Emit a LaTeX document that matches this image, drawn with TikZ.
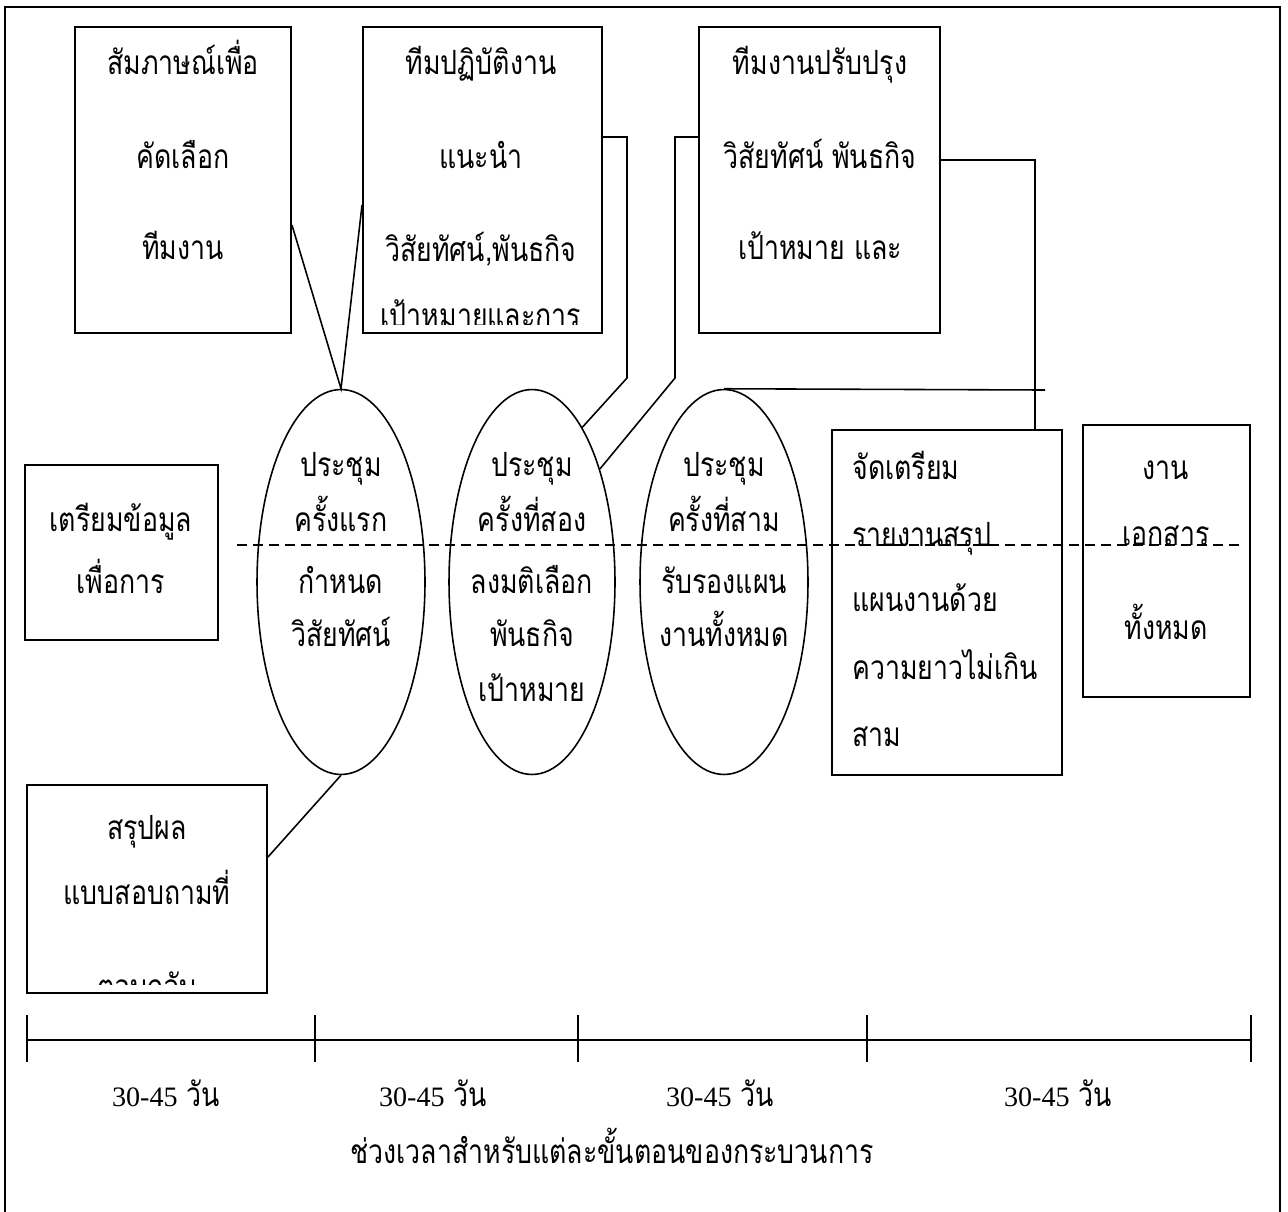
\documentclass[tikz,border=0pt]{standalone}
\usepackage{fontspec}
\newfontfamily\thai[Script=Thai,FakeStretch=0.8]{Loma}
\newfontfamily\lat{Liberation Serif}
\usetikzlibrary{shapes.geometric,fit}

\begin{document}
\begin{tikzpicture}[x=0.02cm, y=-0.02cm,
        box/.style={draw, line width=1.1pt, inner sep=0pt},
        meet/.style={draw, ellipse, line width=0.9pt, inner sep=0pt, minimum width=3.36cm, minimum height=7.7cm},
        txt/.style={font=\thai\fontsize{19}{19}\selectfont, inner sep=0pt, anchor=base},
        link/.style={line width=0.9pt}]
    \useasboundingbox (0,0) rectangle (1288,1211);
    \draw[line width=1.1pt] (5,1215) -- (5,7) -- (1280,7) -- (1280,1215);

    % boxes
    \node[box, fit={(75,27) (291,333)}] (b1) {};
    \node[box, fit={(363,27) (602,333)}] (b2) {};
    \node[box, fit={(699,27) (940,333)}] (b3) {};
    \node[box, fit={(25,465) (218,640)}] (b4) {};
    \node[box, fit={(27,785) (267,993)}] (b5) {};
    \node[box, fit={(832,430) (1062,775)}] (b7) {};
    \node[box, fit={(1083,425) (1250,697)}] (b8) {};

    % meetings
    \node[meet] (m1) at (341,582) {};
    \node[meet, minimum width=3.32cm] (m2) at (532,582) {};
    \node[meet] (m3) at (724,582) {};

    % texts
    \foreach \t/\y [count=\i] in {สัมภาษณ์เพื่อ/74, คัดเลือก/168, ทีมงาน/259}
        \node[txt] (b1-\i) at (183,\y) {\t};
    \foreach \t/\y [count=\i] in {ทีมปฏิบัติงาน/74, แนะนำ/168, {วิสัยทัศน์,พันธกิจ}/261}
        \node[txt] (b2-\i) at (481,\y) {\t};
    \begin{scope}
        \clip (b2.north west) rectangle (b2.east |- 0,324);
        \node[txt] (b2-4) at (481,327) {เป้าหมายและการ};
    \end{scope}
    \foreach \t/\y [count=\i] in {ทีมงานปรับปรุง/74, วิสัยทัศน์ พันธกิจ/168, เป้าหมาย และ/259}
        \node[txt] (b3-\i) at (820,\y) {\t};
    \foreach \t/\y [count=\i] in {เตรียมข้อมูล/531, เพื่อการ/593}
        \node[txt] (b4-\i) at (121,\y) {\t};
    \foreach \t/\y [count=\i] in {สรุปผล/839, แบบสอบถามที่/904}
        \node[txt] (b5-\i) at (147,\y) {\t};
    \begin{scope}
        \clip (b5.north west) rectangle (b5.east |- 0,984);
        \node[txt] (b5-3) at (147,998) {ตอบกลับ};
    \end{scope}
    \foreach \t/\y [count=\i] in {ประชุม/476, ครั้งแรก/531, กำหนด/593, วิสัยทัศน์/646}
        \node[txt] (m1-\i) at (341,\y) {\t};
    \foreach \t/\y [count=\i] in {ประชุม/476, ครั้งที่สอง/531, ลงมติเลือก/593, พันธกิจ/646, เป้าหมาย/701}
        \node[txt] (m2-\i) at (532,\y) {\t};
    \foreach \t/\y [count=\i] in {ประชุม/476, ครั้งที่สาม/531, รับรองแผน/593, งานทั้งหมด/646}
        \node[txt] (m3-\i) at (724,\y) {\t};
    \foreach \t/\y [count=\i] in {จัดเตรียม/479, รายงานสรุป/546, แผนงานด้วย/611, ความยาวไม่เกิน/679, สาม/746}
        \node[txt, anchor=base west] (b7-\i) at (852,\y) {\t};
    \foreach \t/\y [count=\i] in {งาน/479, เอกสาร/545, ทั้งหมด/639}
        \node[txt] (b8-\i) at (1166,\y) {\t};

    \draw[dashed, dash pattern=on 0.2cm off 0.12cm, line width=0.9pt] (237,545) -- (1240,545);

    % connectors
    \draw[link] (b1.east |- 0,225) -- (m1.north) -- (b2.west |- 0,205);
    \draw[link] (m1.south) -- (b5.east |- 0,857);
    \draw[link] (b2.east |- 0,137) -| (627,378) -- (m2.72);
    \draw[link] (b3.west |- 0,137) -| (675,378) -- (m2.59);
    \draw[link] (b3.east |- 0,160) -| (b7.north -| 1035,0);
    \coordinate (e3) at (1045,390);
    \draw[link] (m3.north) -- (e3);

    % time line
    \draw[line width=1.1pt] (27,1040) -- (1251,1040);
    \foreach \x in {27,315,578,867,1251}
        \draw[line width=1.1pt] (\x,1015) -- (\x,1062);
    \foreach \x [count=\i] in {166,433,720,1058}
        \node[txt] (d\i) at (\x,1106) {{\lat\fontsize{16}{16}\selectfont 30-45} วัน};
    \node[txt] (span) at (612,1163) {ช่วงเวลาสำหรับแต่ละขั้นตอนของกระบวนการ};
\end{tikzpicture}
\end{document}
